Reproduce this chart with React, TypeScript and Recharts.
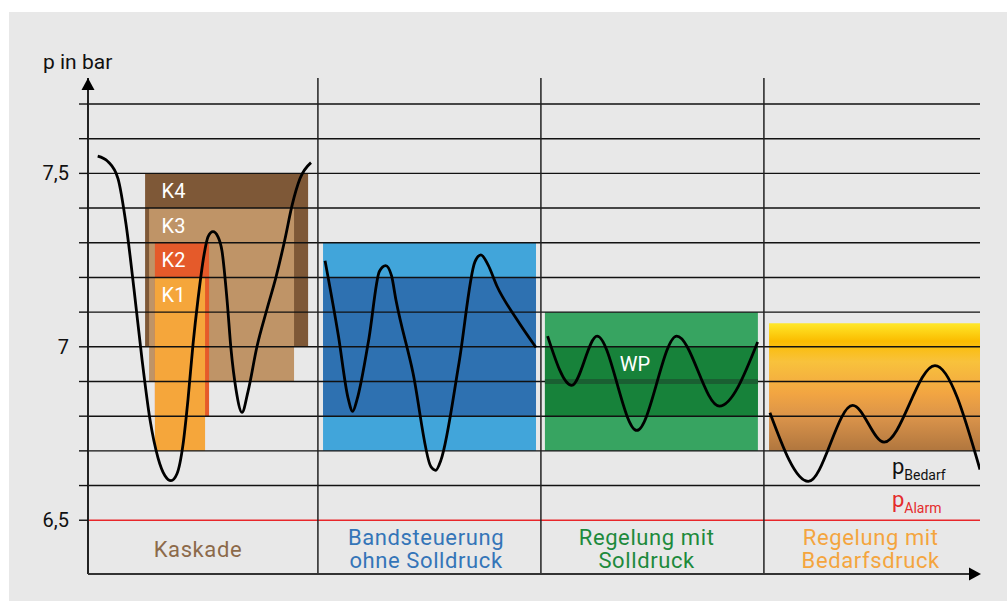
import React from "react";
import {
  ComposedChart,
  Line,
  XAxis,
  YAxis,
  ReferenceArea,
  ReferenceLine,
  ReferenceDot,
} from "recharts";

const FONT = "Roboto, 'Noto Sans', sans-serif";

// pressure axis
const yDomain = [6.345, 7.775];
const gridValues = [6.6, 6.7, 6.8, 6.9, 7.0, 7.1, 7.2, 7.3, 7.4, 7.5, 7.6, 7.7];
const alarmValue = 6.5;
const yTicks = [alarmValue, ...gridValues];
const yTickLabels: Record<string, string> = { "6.5": "6,5", "7": "7", "7.5": "7,5" };

// time axis, four sections
const xDomain = [0, 400];
const sectionBounds = [103.1, 203.1, 303.1];
const sectionTitles = [
  ["Kaskade"],
  ["Bandsteuerung", "ohne Solldruck"],
  ["Regelung mit", "Solldruck"],
  ["Regelung mit", "Bedarfsdruck"],
];
const sectionTitleX = [49.3, 151.6, 250.5, 351];
const sectionTitleY = 6.395;

// Kaskade: compressor stages
const kaskadeStages = ["K4", "K3", "K2", "K1"];
const kaskadeFrom = [25.6, 27.4, 30.0, 30.0];
const kaskadeTo = [98.7, 92.4, 54.3, 52.5];
const kaskadeLow = [7.0, 6.9, 6.8, 6.7];
const kaskadeHigh = [7.5, 7.4, 7.3, 7.2];
const kaskadeLabelX = 33;

// Bandsteuerung
const bandX = [105.4, 200.9];
const bandOuter = [6.7, 7.3];
const bandInner = [6.8, 7.2];

// Regelung mit Solldruck
const sollX = [204.9, 300.4];
const sollOuter = [6.7, 7.1];
const sollInner = [6.8, 7.0];
const workingPoint = 6.9;
const wpLabelX = 245.3;

// Regelung mit Bedarfsdruck
const bedarfX = [305.4, 400];
const bedarfBand = [6.7, 7.068];
const pLabelX = 360.5;
const pBedarfY = 6.633;
const pAlarmY = 6.538;

// pressure curves
const kaskadeCurve = [
  { x: 4.35, y: 7.55 }, { x: 8.97, y: 7.534 }, { x: 13.45, y: 7.485 },
  { x: 17.04, y: 7.354 }, { x: 20.63, y: 7.166 }, { x: 24.22, y: 6.964 },
  { x: 27.8, y: 6.79 }, { x: 31.39, y: 6.68 }, { x: 34.53, y: 6.628 },
  { x: 37.22, y: 6.614 }, { x: 39.91, y: 6.634 }, { x: 42.6, y: 6.718 },
  { x: 44.84, y: 6.848 }, { x: 47.09, y: 7.007 }, { x: 49.33, y: 7.137 },
  { x: 52.02, y: 7.265 }, { x: 53.81, y: 7.317 }, { x: 56.05, y: 7.332 },
  { x: 58.3, y: 7.317 }, { x: 60.09, y: 7.276 }, { x: 62.33, y: 7.137 },
  { x: 64.13, y: 6.993 }, { x: 66.37, y: 6.877 }, { x: 69.06, y: 6.811 },
  { x: 71.75, y: 6.871 }, { x: 75.78, y: 7.001 }, { x: 80.27, y: 7.109 },
  { x: 84.3, y: 7.201 }, { x: 88.34, y: 7.311 }, { x: 91.48, y: 7.407 },
  { x: 95.07, y: 7.485 }, { x: 100, y: 7.531 },
];
const bandCurve = [
  { x: 106.3, y: 7.248 }, { x: 112.3, y: 7.031 }, { x: 116.6, y: 6.853 },
  { x: 118.7, y: 6.814 }, { x: 120.6, y: 6.847 }, { x: 126.0, y: 7.025 },
  { x: 130.7, y: 7.218 }, { x: 133.5, y: 7.234 }, { x: 136.1, y: 7.205 },
  { x: 138.1, y: 7.135 }, { x: 145.7, y: 6.926 }, { x: 153.8, y: 6.654 },
  { x: 155.9, y: 6.644 }, { x: 158.3, y: 6.674 }, { x: 166.4, y: 6.955 },
  { x: 173.5, y: 7.245 }, { x: 176.2, y: 7.265 }, { x: 179.4, y: 7.236 },
  { x: 183.3, y: 7.176 }, { x: 192.2, y: 7.08 }, { x: 200.9, y: 6.998 },
];
const sollCurve = [
  { x: 206.1, y: 7.031 }, { x: 216.9, y: 6.889 }, { x: 228.3, y: 7.031 },
  { x: 246.1, y: 6.759 }, { x: 264.0, y: 7.031 }, { x: 283.1, y: 6.829 },
  { x: 300.3, y: 7.014 },
];
const bedarfCurve = [
  { x: 305.8, y: 6.81 }, { x: 323.0, y: 6.612 }, { x: 342.9, y: 6.831 },
  { x: 357.0, y: 6.725 }, { x: 379.8, y: 6.946 }, { x: 400, y: 6.646 },
];

const kaskadeColors = ["#7e5837", "#bf9467", "#e55a2a", "#f5a63b"];
const sectionColors = ["#8c6a4a", "#3475b8", "#1d8a3c", "#f4a53e"];

const TextMark = ({ cx, cy, text, color, size = 20, anchor = "start" }: any) => (
  <text
    x={cx}
    y={cy}
    dy="0.36em"
    fill={color}
    fontSize={size}
    fontFamily={FONT}
    textAnchor={anchor}
  >
    {text}
  </text>
);

const TitleMark = ({ cx, cy, lines, color }: any) => (
  <text fill={color} fontSize={22} fontFamily={FONT} textAnchor="middle" letterSpacing={0.6}>
    {lines.map((l: string, i: number) => (
      <tspan key={i} x={cx} y={cy + (i - (lines.length - 1) / 2) * 23}>
        {l}
      </tspan>
    ))}
  </text>
);

const SubMark = ({ cx, cy, main, sub, color }: any) => (
  <text x={cx} y={cy} fill={color} fontFamily={FONT}>
    <tspan fontSize={22}>{main}</tspan>
    <tspan fontSize={14} dy={6}>
      {sub}
    </tspan>
  </text>
);

const ArrowUp = ({ cx, cy }: any) => (
  <polygon points={`${cx - 6.5},${cy + 12} ${cx + 6.5},${cy + 12} ${cx},${cy}`} fill="#000" />
);
const ArrowRight = ({ cx, cy }: any) => (
  <polygon points={`${cx - 11},${cy - 6.5} ${cx - 11},${cy + 6.5} ${cx + 1},${cy}`} fill="#000" />
);

const AxisTitle = ({ viewBox }: any) => (
  <text x={viewBox.x + 43} y={viewBox.y - 9} fontSize={21} fontFamily={FONT} fill="#111">
    p in bar
  </text>
);

export default function App() {
  return (
    <div style={{ position: "absolute", left: 0, top: 0, width: 1008, height: 601, background: "#fff" }}>
      <div style={{ position: "absolute", left: 9, top: 12, width: 998, height: 589, background: "#e8e8e8" }} />
      <ComposedChart
        width={1008}
        height={601}
        style={{ position: "absolute", left: 0, top: 0 }}
        margin={{ top: 78, right: 28, bottom: 27, left: 0 }}
      >
        <defs>
          <linearGradient id="bedarfGrad" x1="0" y1="0" x2="0" y2="1">
            <stop offset="0%" stopColor="#ffe82a" />
            <stop offset="14%" stopColor="#fbbc00" />
            <stop offset="30%" stopColor="#f8c23c" />
            <stop offset="55%" stopColor="#f2a542" />
            <stop offset="75%" stopColor="#d8924a" />
            <stop offset="100%" stopColor="#b0763e" />
          </linearGradient>
        </defs>
        <XAxis type="number" dataKey="x" domain={xDomain} allowDataOverflow hide />
        <YAxis
          type="number"
          domain={yDomain}
          allowDataOverflow
          ticks={yTicks}
          interval={0}
          width={88}
          tickSize={9}
          tickMargin={10}
          tickLine={{ stroke: "#111", strokeWidth: 1.4 }}
          axisLine={{ stroke: "#222", strokeWidth: 2 }}
          tick={{ fontSize: 20, fill: "#111", fontFamily: FONT }}
          tickFormatter={(v: number) => yTickLabels[String(v)] ?? ""}
          label={{ content: <AxisTitle /> }}
          zIndex={500}
        />

        {kaskadeStages.map((s, i) => (
          <ReferenceArea
            key={s}
            x1={kaskadeFrom[i]}
            x2={kaskadeTo[i]}
            y1={kaskadeLow[i]}
            y2={kaskadeHigh[i]}
            fill={kaskadeColors[i]}
            fillOpacity={1}
            stroke="none"
            zIndex={100 + i}
          />
        ))}
        <ReferenceArea x1={bandX[0]} x2={bandX[1]} y1={bandOuter[0]} y2={bandOuter[1]} fill="#41a5da" fillOpacity={1} stroke="none" zIndex={100} />
        <ReferenceArea x1={bandX[0]} x2={bandX[1]} y1={bandInner[0]} y2={bandInner[1]} fill="#2e71b1" fillOpacity={1} stroke="none" zIndex={101} />
        <ReferenceArea x1={sollX[0]} x2={sollX[1]} y1={sollOuter[0]} y2={sollOuter[1]} fill="#37a461" fillOpacity={1} stroke="none" zIndex={100} />
        <ReferenceArea x1={sollX[0]} x2={sollX[1]} y1={sollInner[0]} y2={sollInner[1]} fill="#17823a" fillOpacity={1} stroke="none" zIndex={101} />
        <ReferenceArea x1={bedarfX[0]} x2={bedarfX[1]} y1={bedarfBand[0]} y2={bedarfBand[1]} fill="url(#bedarfGrad)" fillOpacity={1} stroke="none" zIndex={100} />

        {gridValues.map((v) => (
          <ReferenceLine key={v} y={v} stroke="#111" strokeWidth={1.4} zIndex={200} />
        ))}
        <ReferenceLine y={alarmValue} stroke="#e8262a" strokeWidth={1.4} zIndex={200} />
        <ReferenceLine
          segment={[{ x: sollX[0], y: workingPoint }, { x: sollX[1], y: workingPoint }]}
          stroke="#1a5f32"
          strokeWidth={5}
          zIndex={250}
        />
        {sectionBounds.map((b) => (
          <ReferenceLine key={b} x={b} stroke="#222" strokeWidth={1.5} zIndex={260} />
        ))}
        {/* time axis baseline */}
        <ReferenceLine
          segment={[{ x: xDomain[0], y: yDomain[0] }, { x: xDomain[1] - 3, y: yDomain[0] }]}
          stroke="#333"
          strokeWidth={2.2}
          ifOverflow="visible"
          zIndex={500}
        />

        {[kaskadeCurve, bandCurve, sollCurve, bedarfCurve].map((d, i) => (
          <Line
            key={i}
            data={d}
            dataKey="y"
            type="monotone"
            stroke="#000"
            strokeWidth={2.8}
            dot={false}
            activeDot={false}
            isAnimationActive={false}
            zIndex={400}
          />
        ))}

        {kaskadeStages.map((s, i) => (
          <ReferenceDot
            key={s}
            x={kaskadeLabelX}
            y={kaskadeHigh[i] - 0.05}
            zIndex={600}
            shape={(p: any) => <TextMark {...p} text={s} color="#fff" size={20} />}
          />
        ))}
        <ReferenceDot
          x={wpLabelX}
          y={(sollInner[1] + workingPoint) / 2}
          zIndex={600}
          shape={(p: any) => <TextMark {...p} text="WP" color="#fff" size={20} anchor="middle" />}
        />
        <ReferenceDot
          x={pLabelX}
          y={pBedarfY}
          zIndex={600}
          shape={(p: any) => <SubMark {...p} main="p" sub="Bedarf" color="#111" />}
        />
        <ReferenceDot
          x={pLabelX}
          y={pAlarmY}
          zIndex={600}
          shape={(p: any) => <SubMark {...p} main="p" sub="Alarm" color="#e42c2c" />}
        />
        {sectionTitles.map((lines, i) => (
          <ReferenceDot
            key={i}
            x={sectionTitleX[i]}
            y={sectionTitleY}
            zIndex={600}
            shape={(p: any) => <TitleMark {...p} lines={lines} color={sectionColors[i]} />}
          />
        ))}
        <ReferenceDot x={xDomain[0]} y={yDomain[1]} ifOverflow="visible" zIndex={700} shape={(p: any) => <ArrowUp {...p} />} />
        <ReferenceDot x={xDomain[1]} y={yDomain[0]} ifOverflow="visible" zIndex={700} shape={(p: any) => <ArrowRight {...p} />} />
      </ComposedChart>
    </div>
  );
}
